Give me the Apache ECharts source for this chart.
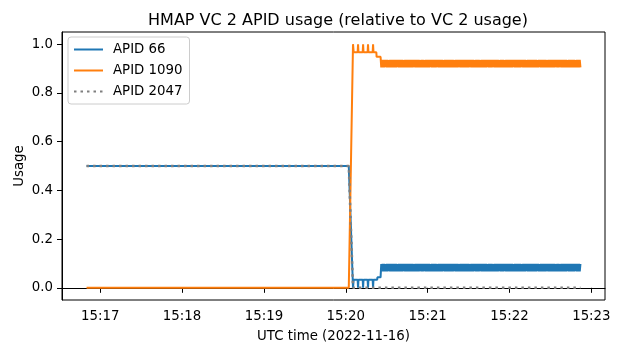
<!DOCTYPE html>
<html>
<head>
<meta charset="utf-8">
<script src="https://cdn.jsdelivr.net/npm/echarts@6/dist/echarts.min.js"></script>
<style>
  html, body { margin: 0; padding: 0; background: #fff; }
  #chart { width: 620px; height: 353px; }
</style>
</head>
<body>
<div id="chart"></div>
<script>
// time strings are UTC on 2022-11-16
var xTickLabels = ['15:17', '15:18', '15:19', '15:20', '15:21', '15:22', '15:23']
var yTickLabels = [0.0, 0.2, 0.4, 0.6, 0.8, 1.0]

// sparse points before the steady band
var apid66Times = ['15:16:50', '15:20:02.2', '15:20:05.3', '15:20:05.6', '15:20:05.8',
  '15:20:08.7', '15:20:09.0', '15:20:09.3', '15:20:12.4', '15:20:12.7', '15:20:13.0',
  '15:20:16.0', '15:20:16.3', '15:20:16.6', '15:20:19.7', '15:20:20.0', '15:20:20.3',
  '15:20:23.0', '15:20:23.2', '15:20:25.5']
var apid66Values = [0.5, 0.5, 0.0, 0.0, 0.033,
  0.033, 0.0, 0.033, 0.033, 0.0, 0.033,
  0.033, 0.0, 0.033, 0.033, 0.0, 0.033,
  0.033, 0.043, 0.043]

var apid1090Times = ['15:16:50', '15:20:02.2', '15:20:05.3', '15:20:05.6', '15:20:05.8',
  '15:20:08.7', '15:20:09.0', '15:20:09.3', '15:20:12.4', '15:20:12.7', '15:20:13.0',
  '15:20:16.0', '15:20:16.3', '15:20:16.6', '15:20:19.7', '15:20:20.0', '15:20:20.3',
  '15:20:22.4', '15:20:22.6', '15:20:25.5']
var apid1090Values = [0.0, 0.0, 1.0, 1.0, 0.967,
  0.967, 1.0, 0.967, 0.967, 1.0, 0.967,
  0.967, 1.0, 0.967, 0.967, 1.0, 0.967,
  0.967, 0.948, 0.948]

var apid2047Times = ['15:16:50', '15:20:02.2', '15:20:05.3', '15:22:52']
var apid2047Values = [0.5, 0.5, 0.0, 0.0]

// steady part, one sample every bandStep seconds from bandStart
var bandStart = '15:20:26'
var bandStep = 0.5
var apid66Band = [
  0.098, 0.067, 0.098, 0.067, 0.098, 0.067, 0.097, 0.067, 0.098, 0.067, 0.098, 0.068, 0.098, 0.067, 0.098, 0.067, 0.098, 0.067, 0.098, 0.067,
  0.098, 0.067, 0.098, 0.067, 0.097, 0.067, 0.098, 0.067, 0.098, 0.067, 0.098, 0.067, 0.098, 0.068, 0.098, 0.067, 0.098, 0.067, 0.098, 0.067,
  0.098, 0.067, 0.098, 0.067, 0.098, 0.067, 0.098, 0.067, 0.097, 0.067, 0.098, 0.067, 0.098, 0.067, 0.098, 0.067, 0.098, 0.068, 0.098, 0.067,
  0.098, 0.067, 0.098, 0.068, 0.098, 0.067, 0.098, 0.067, 0.098, 0.067, 0.098, 0.067, 0.097, 0.067, 0.098, 0.067, 0.098, 0.067, 0.098, 0.067,
  0.098, 0.067, 0.097, 0.067, 0.098, 0.067, 0.098, 0.067, 0.098, 0.067, 0.098, 0.068, 0.098, 0.067, 0.098, 0.067, 0.098, 0.067, 0.098, 0.067,
  0.098, 0.067, 0.098, 0.067, 0.098, 0.067, 0.098, 0.068, 0.098, 0.067, 0.098, 0.067, 0.098, 0.067, 0.097, 0.067, 0.098, 0.067, 0.098, 0.067,
  0.098, 0.067, 0.098, 0.067, 0.098, 0.067, 0.098, 0.067, 0.098, 0.067, 0.097, 0.067, 0.098, 0.067, 0.098, 0.067, 0.098, 0.068, 0.098, 0.067,
  0.098, 0.067, 0.098, 0.067, 0.098, 0.068, 0.098, 0.067, 0.098, 0.067, 0.098, 0.067, 0.098, 0.067, 0.098, 0.067, 0.097, 0.067, 0.098, 0.067,
  0.098, 0.067, 0.098, 0.067, 0.097, 0.067, 0.098, 0.067, 0.098, 0.067, 0.098, 0.067, 0.098, 0.068, 0.098, 0.067, 0.098, 0.067, 0.098, 0.067,
  0.098, 0.068, 0.098, 0.067, 0.098, 0.067, 0.098, 0.067, 0.098, 0.067, 0.098, 0.067, 0.098, 0.067, 0.097, 0.067, 0.098, 0.067, 0.098, 0.067,
  0.098, 0.067, 0.098, 0.067, 0.098, 0.067, 0.097, 0.067, 0.098, 0.067, 0.098, 0.067, 0.098, 0.068, 0.098, 0.067, 0.098, 0.067, 0.098, 0.067,
  0.098, 0.067, 0.098, 0.067, 0.098, 0.067, 0.098, 0.067, 0.098, 0.068, 0.098, 0.067, 0.097, 0.067, 0.098, 0.067, 0.098, 0.067, 0.098, 0.067,
  0.098, 0.067, 0.098, 0.068, 0.098, 0.067, 0.098, 0.067, 0.098, 0.067, 0.098, 0.067, 0.098, 0.067, 0.098, 0.067, 0.097, 0.067, 0.098, 0.067,
  0.098, 0.067, 0.097, 0.067, 0.098, 0.067, 0.098, 0.067, 0.098, 0.067, 0.098, 0.067, 0.098, 0.068, 0.098, 0.067, 0.098, 0.067, 0.098, 0.067,
  0.098, 0.067, 0.098, 0.067, 0.098, 0.068, 0.098, 0.067, 0.098, 0.067, 0.098, 0.067, 0.098
]
var apid1090Band = [
  0.905, 0.936, 0.905, 0.936, 0.905, 0.936, 0.906, 0.936, 0.905, 0.936, 0.905, 0.935, 0.905, 0.936, 0.905, 0.936, 0.905, 0.936, 0.905, 0.936,
  0.905, 0.936, 0.905, 0.936, 0.906, 0.936, 0.905, 0.936, 0.905, 0.936, 0.905, 0.936, 0.905, 0.935, 0.905, 0.936, 0.905, 0.936, 0.905, 0.936,
  0.905, 0.936, 0.905, 0.936, 0.905, 0.936, 0.905, 0.936, 0.906, 0.936, 0.905, 0.936, 0.905, 0.936, 0.905, 0.936, 0.905, 0.935, 0.905, 0.936,
  0.905, 0.936, 0.905, 0.935, 0.905, 0.936, 0.905, 0.936, 0.905, 0.936, 0.905, 0.936, 0.906, 0.936, 0.905, 0.936, 0.905, 0.936, 0.905, 0.936,
  0.905, 0.936, 0.906, 0.936, 0.905, 0.936, 0.905, 0.936, 0.905, 0.936, 0.905, 0.935, 0.905, 0.936, 0.905, 0.936, 0.905, 0.936, 0.905, 0.936,
  0.905, 0.936, 0.905, 0.936, 0.905, 0.936, 0.905, 0.935, 0.905, 0.936, 0.905, 0.936, 0.905, 0.936, 0.906, 0.936, 0.905, 0.936, 0.905, 0.936,
  0.905, 0.936, 0.905, 0.936, 0.905, 0.936, 0.905, 0.936, 0.905, 0.936, 0.906, 0.936, 0.905, 0.936, 0.905, 0.936, 0.905, 0.935, 0.905, 0.936,
  0.905, 0.936, 0.905, 0.936, 0.905, 0.935, 0.905, 0.936, 0.905, 0.936, 0.905, 0.936, 0.905, 0.936, 0.905, 0.936, 0.906, 0.936, 0.905, 0.936,
  0.905, 0.936, 0.905, 0.936, 0.906, 0.936, 0.905, 0.936, 0.905, 0.936, 0.905, 0.936, 0.905, 0.935, 0.905, 0.936, 0.905, 0.936, 0.905, 0.936,
  0.905, 0.935, 0.905, 0.936, 0.905, 0.936, 0.905, 0.936, 0.905, 0.936, 0.905, 0.936, 0.905, 0.936, 0.906, 0.936, 0.905, 0.936, 0.905, 0.936,
  0.905, 0.936, 0.905, 0.936, 0.905, 0.936, 0.906, 0.936, 0.905, 0.936, 0.905, 0.936, 0.905, 0.935, 0.905, 0.936, 0.905, 0.936, 0.905, 0.936,
  0.905, 0.936, 0.905, 0.936, 0.905, 0.936, 0.905, 0.936, 0.905, 0.935, 0.905, 0.936, 0.906, 0.936, 0.905, 0.936, 0.905, 0.936, 0.905, 0.936,
  0.905, 0.936, 0.905, 0.935, 0.905, 0.936, 0.905, 0.936, 0.905, 0.936, 0.905, 0.936, 0.905, 0.936, 0.905, 0.936, 0.906, 0.936, 0.905, 0.936,
  0.905, 0.936, 0.906, 0.936, 0.905, 0.936, 0.905, 0.936, 0.905, 0.936, 0.905, 0.936, 0.905, 0.935, 0.905, 0.936, 0.905, 0.936, 0.905, 0.936,
  0.905, 0.936, 0.905, 0.936, 0.905, 0.935, 0.905, 0.936, 0.905, 0.936, 0.905, 0.936, 0.905
]

function sec(s) {
  var p = s.split(':')
  return (+p[0]) * 3600 + (+p[1]) * 60 + parseFloat(p[2] || 0)
}

function hhmm(v) {
  var m = Math.round(v / 60)
  var h = Math.floor(m / 60)
  m = m % 60
  return h + ':' + (m < 10 ? '0' : '') + m
}

function buildSeries(times, values, band) {
  var out = []
  for (var i = 0; i < times.length; i++) {
    out.push([sec(times[i]), values[i]])
  }
  if (band) {
    var t0 = sec(bandStart)
    for (var j = 0; j < band.length; j++) {
      out.push([t0 + j * bandStep, band[j]])
    }
  }
  return out
}

var font = 'DejaVu Sans'
var chart = echarts.init(document.getElementById('chart'))

chart.setOption({
  animation: false,
  backgroundColor: '#fff',
  title: {
    text: 'HMAP VC 2 APID usage (relative to VC 2 usage)',
    left: 333,
    top: 8,
    textAlign: 'center',
    textStyle: { fontFamily: font, fontSize: 16, fontWeight: 'normal', color: '#000' }
  },
  legend: {
    orient: 'vertical',
    left: 68,
    top: 37,
    itemWidth: 29,
    itemHeight: 14,
    itemGap: 8,
    padding: [6, 7, 6, 5],
    borderColor: '#cccccc',
    borderWidth: 1,
    borderRadius: 3,
    backgroundColor: '#fff',
    itemStyle: { opacity: 0 },
    textStyle: { fontFamily: font, fontSize: 13.33, color: '#000', padding: [0, 0, 0, 5] },
    data: ['APID 66', 'APID 1090', 'APID 2047']
  },
  grid: {
    left: 62,
    right: 15,
    top: 32,
    bottom: 53,
    show: true,
    borderColor: '#000',
    borderWidth: 1,
    backgroundColor: 'transparent'
  },
  xAxis: {
    type: 'value',
    min: sec('15:16:32'),
    max: sec('15:23:10'),
    name: 'UTC time (2022-11-16)',
    nameLocation: 'middle',
    nameGap: 30,
    nameTextStyle: { fontFamily: font, fontSize: 13.33, color: '#000' },
    axisLine: { show: true, lineStyle: { color: '#000', width: 1 } },
    axisTick: {
      show: true,
      length: 5,
      lineStyle: { color: '#000' },
      customValues: xTickLabels.map(sec)
    },
    axisLabel: {
      margin: 10,
      color: '#000',
      fontFamily: font,
      fontSize: 13.33,
      customValues: xTickLabels.map(sec),
      formatter: hhmm
    },
    splitLine: { show: false }
  },
  yAxis: {
    type: 'value',
    min: -0.05,
    max: 1.05,
    name: 'Usage',
    nameLocation: 'middle',
    nameGap: 36,
    nameMoveOverlap: false,
    nameTextStyle: { fontFamily: font, fontSize: 13.33, color: '#000' },
    axisLine: { show: true, lineStyle: { color: '#000', width: 1 } },
    axisTick: {
      show: true,
      length: 5,
      lineStyle: { color: '#000' },
      customValues: yTickLabels
    },
    axisLabel: {
      margin: 9,
      color: '#000',
      fontFamily: font,
      fontSize: 13.33,
      customValues: yTickLabels,
      formatter: function (v) { return v.toFixed(1) }
    },
    splitLine: { show: false }
  },
  series: [
    {
      name: 'APID 66',
      type: 'line',
      symbol: 'none',
      color: '#1f77b4',
      lineStyle: { width: 2, color: '#1f77b4' },
      data: buildSeries(apid66Times, apid66Values, apid66Band)
    },
    {
      name: 'APID 1090',
      type: 'line',
      symbol: 'none',
      color: '#ff7f0e',
      lineStyle: { width: 2, color: '#ff7f0e' },
      data: buildSeries(apid1090Times, apid1090Values, apid1090Band)
    },
    {
      name: 'APID 2047',
      type: 'line',
      symbol: 'none',
      color: '#7f7f7f',
      lineStyle: { width: 2.5, color: '#7f7f7f', type: [2.5, 4] },
      data: buildSeries(apid2047Times, apid2047Values, null)
    }
  ]
})
</script>
</body>
</html>
